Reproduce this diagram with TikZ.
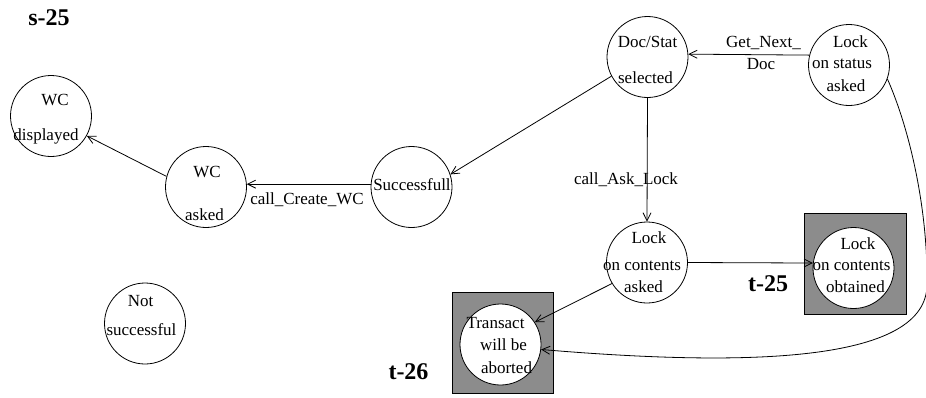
\documentclass[tikz,border=0pt]{standalone}
\usepackage{fontspec}
\setmainfont{Liberation Serif}
\usetikzlibrary{arrows.meta}
\definecolor{boxGray}{RGB}{140, 140, 140}

\begin{document}
\begin{tikzpicture}[x=1pt, y=-1pt, line width=0.8pt,
    state/.style={draw, circle, minimum size=81pt, inner sep=0pt},
    txt/.style={inner sep=0pt, font=\fontsize{17}{20}\selectfont},
    lab/.style={inner sep=0pt, font=\fontsize{24}{28}\selectfont\bfseries},
    >={Straight Barb[length=8pt, width=8pt]}]
        \useasboundingbox (0,0) rectangle (926,397);
        % shaded end states
        \draw[fill=boxGray] (452,292) rectangle (553,393);
        \draw[fill=boxGray] (804,213) rectangle (906,314);
        % states
        \node[state] (wcd) at (51,116) {};
        \node[state] (wca) at (206,187) {};
        \node[state] (succ) at (411.5,187) {};
        \node[state] (doc) at (647.5,57) {};
        \node[state] (lstat) at (849,65) {};
        \node[state] (lca) at (647,262.5) {};
        \node[state, fill=white] (lco) at (853.5,268) {};
        \node[state, fill=white] (trans) at (500.5,344.5) {};
        \node[state] (notsucc) at (145,323.5) {};
        % state texts
        \node[txt] (wcd1) at (55,100) {WC};
        \node[txt] (wcd2) at (46,136) {displayed};
        \node[txt] (wca1) at (207,172) {WC};
        \node[txt] (wca2) at (204.5,215) {asked};
        \node[txt] (succ1) at (412,184.5) {Successfull};
        \node[txt] (doc1) at (647.5,42) {Doc/Stat};
        \node[txt] (doc2) at (645.5,77.5) {selected};
        \node[txt] (lstat1) at (850.5,42) {Lock};
        \node[txt] (lstat2) at (842,64) {on status};
        \node[txt] (lstat3) at (846,86) {asked};
        \node[txt] (lca1) at (649,237.5) {Lock};
        \node[txt] (lca2) at (642,266) {on contents};
        \node[txt] (lca3) at (643.5,286.5) {asked};
        \node[txt] (lco1) at (858,243.5) {Lock};
        \node[txt] (lco2) at (851.5,266) {on contents};
        \node[txt] (lco3) at (855.5,286.5) {obtained};
        \node[txt] (trans1) at (495.5,323) {Transact};
        \node[txt] (trans2) at (503.5,345) {will be};
        \node[txt] (trans3) at (506.5,367.5) {aborted};
        \node[txt] (notsucc1) at (140.5,301.5) {Not};
        \node[txt] (notsucc2) at (141.5,330) {successful};
        % big labels
        \node[lab] (s25) at (49,18) {s-25};
        \node[lab] (t25) at (768,284) {t-25};
        \node[lab] (t26) at (408.5,371.5) {t-26};
        % transitions
        \draw[->] (wca.165) -- (wcd.-29);
        \draw[->] (succ.176) -- (wca.4);
        \node[txt] (createwc) at (307,200) {call\_Create\_WC};
        \draw[->] (doc.-152) -- (succ.18);
        \draw[->] (doc.south) -- (lca.north);
        \node[txt] (asklock) at (626,180) {call\_Ask\_Lock};
        \draw[->] (lstat.166) -- (doc.4);
        \node[txt] (getnext1) at (763.5,43) {Get\_Next\_};
        \node[txt] (getnext2) at (761,64) {Doc};
        \draw[->] (lca.east) -- (lco.173);
        \draw[->] (lca.-149) -- (trans.33);
        \draw[->] (lstat.-20) .. controls (910,130) and (928,210) .. (927,285)
              .. controls (926,360) and (760,368) .. (trans.-7);
      \end{tikzpicture}
\end{document}
